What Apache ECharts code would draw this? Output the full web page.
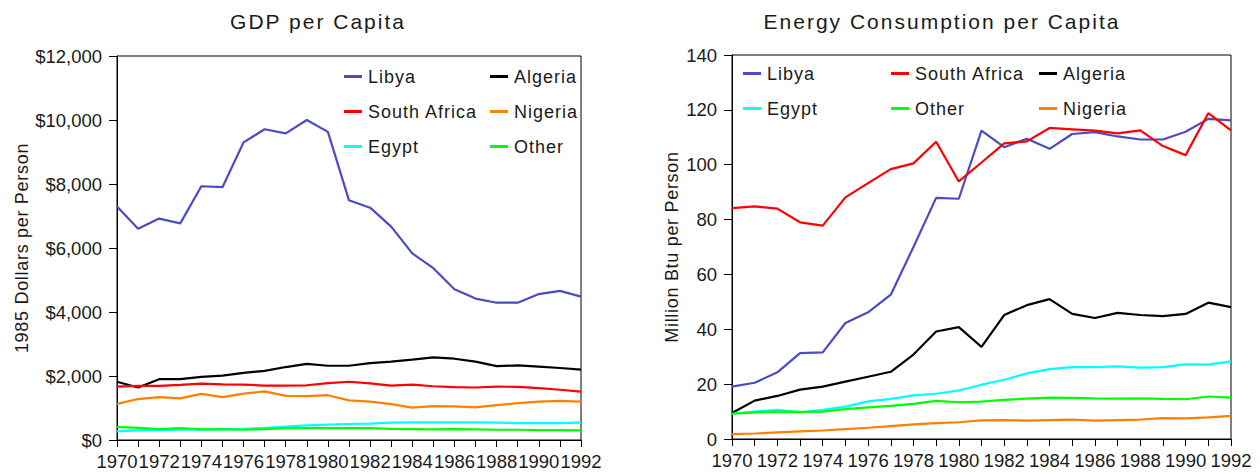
<!DOCTYPE html>
<html>
<head>
<meta charset="utf-8">
<script src="https://cdn.jsdelivr.net/npm/echarts@6/dist/echarts.min.js"></script>
<style>
  html, body { margin: 0; padding: 0; background: #fff; }
  #chart { width: 1260px; height: 474px; }
</style>
</head>
<body>
<div id="chart"></div>
<script>
// Years on the horizontal axis
const years = ['1970','1971','1972','1973','1974','1975','1976','1977','1978','1979','1980',
  '1981','1982','1983','1984','1985','1986','1987','1988','1989','1990','1991','1992'];

// GDP per capita, 1985 dollars per person
const libyaGdp       = [7300,6600,6920,6770,7930,7900,9300,9710,9580,10000,9630,7490,7260,6670,5830,5370,4710,4420,4290,4290,4560,4660,4480];
const algeriaGdp     = [1820,1640,1900,1900,1970,2010,2100,2160,2280,2380,2320,2320,2400,2450,2510,2580,2540,2450,2310,2330,2290,2250,2200];
const southAfricaGdp = [1670,1690,1690,1720,1760,1740,1730,1700,1700,1710,1780,1820,1770,1700,1730,1680,1650,1640,1670,1660,1620,1570,1510];
const nigeriaGdp     = [1130,1280,1340,1300,1440,1340,1450,1520,1380,1370,1400,1240,1200,1120,1010,1060,1050,1020,1090,1150,1200,1220,1200];
const egyptGdp       = [270,300,310,320,320,340,350,380,420,460,480,500,510,540,550,550,550,550,540,530,530,530,540];
const otherGdp       = [410,380,340,370,330,330,320,340,370,370,370,370,370,350,340,330,340,330,320,320,310,310,300];

// Energy consumption per capita, million Btu per person
const libyaEnergy       = [19.1,20.5,24.3,31.3,31.6,42.3,46.2,52.6,70.0,87.9,87.6,112.4,106.4,109.5,105.8,111.2,111.9,110.3,109.2,109.2,112.0,116.7,116.2];
const southAfricaEnergy = [84.2,84.8,84.0,79.0,77.8,88.1,93.3,98.4,100.5,108.4,93.9,100.8,107.8,108.5,113.4,112.9,112.4,111.4,112.5,106.8,103.5,118.8,112.5];
const algeriaEnergy     = [9.5,14.0,15.7,18.0,19.1,20.9,22.7,24.5,30.8,39.2,40.8,33.6,45.2,48.8,51.0,45.6,44.1,46.0,45.2,44.8,45.6,49.7,48.1];
const egyptEnergy       = [9.2,10.0,10.6,9.7,10.6,11.8,13.7,14.6,15.9,16.5,17.7,19.8,21.6,23.9,25.5,26.2,26.2,26.5,26.0,26.2,27.2,27.1,28.3];
const otherEnergy       = [9.2,9.7,10.0,9.9,10.0,10.9,11.5,12.1,12.8,13.9,13.4,13.6,14.3,14.7,15.1,15.0,14.8,14.7,14.8,14.6,14.5,15.5,15.1];
const nigeriaEnergy     = [1.8,2.0,2.4,2.8,3.1,3.6,4.1,4.7,5.3,5.8,6.1,6.8,6.9,6.7,6.9,7.1,6.7,6.9,7.1,7.6,7.5,7.9,8.4];

// Titles and axis names
const titles = ['GDP per Capita', 'Energy Consumption per Capita'];
const yNames = ['1985 Dollars per Person', 'Million Btu per Person'];

const colors = {
  'Libya': '#4b4bc6',
  'Algeria': '#000000',
  'South Africa': '#ff0000',
  'Nigeria': '#ff8000',
  'Egypt': '#00ffff',
  'Other': '#00ff00'
};

const FONT = '"Liberation Sans", Arial, Helvetica, sans-serif';
const TEXT = '#1a1a1a';

function line(name, data, gridIdx) {
  return {
    type: 'line', name: name, data: data,
    xAxisIndex: gridIdx, yAxisIndex: gridIdx,
    symbol: 'none', color: colors[name],
    lineStyle: { width: 2.2, color: colors[name] },
    emphasis: { disabled: true }
  };
}

// one legend entry per slot: [name, left, icon centre y]
const legendSlots = [
  ['Libya', 344, 74], ['South Africa', 344, 109], ['Egypt', 344, 144],
  ['Algeria', 490, 74], ['Nigeria', 490, 109], ['Other', 490, 144],
  ['Libya', 743, 71], ['Egypt', 743, 106],
  ['South Africa', 891, 71], ['Other', 891, 106],
  ['Algeria', 1039, 71], ['Nigeria', 1039, 106]
];

const legends = legendSlots.map(function (s) {
  return {
    data: [s[0]], left: s[1], top: s[2] - 10, padding: 0,
    orient: 'horizontal', icon: 'rect', itemWidth: 18, itemHeight: 3,
    selectedMode: false,
    textStyle: { fontFamily: FONT, fontSize: 18, color: TEXT, lineHeight: 20, padding: [5, 0, 0, 1] }
  };
});

function xAxis(gridIdx) {
  return {
    type: 'category', gridIndex: gridIdx, data: years, boundaryGap: false,
    axisLine: { lineStyle: { color: '#000', width: 1 } },
    axisTick: { show: true, interval: 0, length: 7, lineStyle: { color: '#000' } },
    axisLabel: { interval: 1, hideOverlap: false, margin: 12, fontFamily: FONT, fontSize: 18.5, color: TEXT },
    splitLine: { show: false }
  };
}

function yAxis(gridIdx, max, interval, fmt, nameGap) {
  return {
    type: 'value', gridIndex: gridIdx, min: 0, max: max, interval: interval,
    name: yNames[gridIdx], nameLocation: 'middle', nameGap: nameGap, nameRotate: 90,
    nameTextStyle: { fontFamily: FONT, fontSize: 18, color: TEXT },
    axisLine: { show: true, lineStyle: { color: '#000', width: 1 } },
    axisTick: { show: true, length: 8, lineStyle: { color: '#000' } },
    axisLabel: { margin: 15, fontFamily: FONT, fontSize: 18.5, color: TEXT, formatter: fmt },
    splitLine: { show: false }
  };
}

const chart = echarts.init(document.getElementById('chart'), null, { renderer: 'svg' });
chart.setOption({
  animation: false,
  backgroundColor: '#fff',
  title: [
    { text: titles[0], left: 313, top: 6, textAlign: 'center',
      textStyle: { fontFamily: FONT, fontSize: 21, fontWeight: 'normal', color: TEXT } },
    { text: titles[1], left: 937, top: 6, textAlign: 'center',
      textStyle: { fontFamily: FONT, fontSize: 21, fontWeight: 'normal', color: TEXT } }
  ],
  legend: legends,
  grid: [
    { left: 117, right: 679, top: 56, bottom: 34, show: true, borderColor: '#000', borderWidth: 1 },
    { left: 732, right: 29, top: 55, bottom: 35, show: true, borderColor: '#000', borderWidth: 1 }
  ],
  xAxis: [xAxis(0), xAxis(1)],
  yAxis: [
    yAxis(0, 12000, 2000, function (v) { return '$' + v.toLocaleString('en-US'); }, 86),
    yAxis(1, 140, 20, function (v) { return String(v); }, 51)
  ],
  series: [
    line('Libya', libyaGdp, 0),
    line('Algeria', algeriaGdp, 0),
    line('South Africa', southAfricaGdp, 0),
    line('Nigeria', nigeriaGdp, 0),
    line('Egypt', egyptGdp, 0),
    line('Other', otherGdp, 0),
    line('Libya', libyaEnergy, 1),
    line('South Africa', southAfricaEnergy, 1),
    line('Algeria', algeriaEnergy, 1),
    line('Egypt', egyptEnergy, 1),
    line('Other', otherEnergy, 1),
    line('Nigeria', nigeriaEnergy, 1)
  ]
});

// titles, legend names and axis names are set with a little extra tracking
function applyTracking() {
  document.querySelectorAll('#chart text').forEach(function (t) {
    const s = t.textContent;
    if (titles.indexOf(s) >= 0) t.style.letterSpacing = '2px';
    else if (colors.hasOwnProperty(s)) t.style.letterSpacing = '1px';
    else if (yNames.indexOf(s) >= 0) t.style.letterSpacing = '0.7px';
  });
}
applyTracking();
chart.on('finished', applyTracking);
</script>
</body>
</html>
